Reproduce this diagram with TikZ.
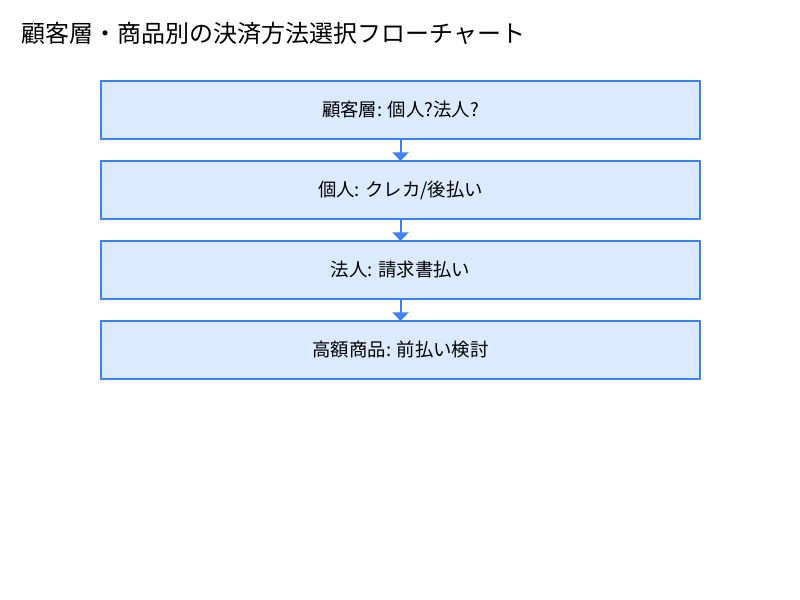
\documentclass[tikz,border=0pt]{standalone}
\usepackage{fontspec}
\setmainfont{Noto Sans CJK JP}
\usepackage{tikz}
\usetikzlibrary{positioning,arrows.meta}
\definecolor{boxfill}{RGB}{219,234,254}
\definecolor{boxline}{RGB}{59,130,246}
\begin{document}
\begin{tikzpicture}[x=1pt, y=1pt, node distance=16.5pt, stepbox/.style={draw=boxline, fill=boxfill, line width=1.5pt, minimum width=449.25pt, minimum height=43.5pt, outer sep=0pt, font=\fontsize{13.8}{16}\selectfont}, flow/.style={draw=boxline, line width=1.5pt, -{Triangle[width=12pt,length=6.5pt]}}]
\useasboundingbox (0,0) rectangle (600,-450);
\node[anchor=west, font=\fontsize{18}{22}\selectfont] (title) at (12.5,-24.75) {顧客層・商品別の決済方法選択フローチャート};
\node[stepbox] (kind) at (300.4,-82.5) {顧客層: 個人?法人?};
\node[stepbox, below=of kind] (person) {個人: クレカ/後払い};
\node[stepbox, below=of person] (corp) {法人: 請求書払い};
\node[stepbox, below=of corp] (high) {高額商品: 前払い検討};
\draw[flow] (kind) -- (person);
\draw[flow] (person) -- (corp);
\draw[flow] (corp) -- (high);
\end{tikzpicture}
\end{document}
